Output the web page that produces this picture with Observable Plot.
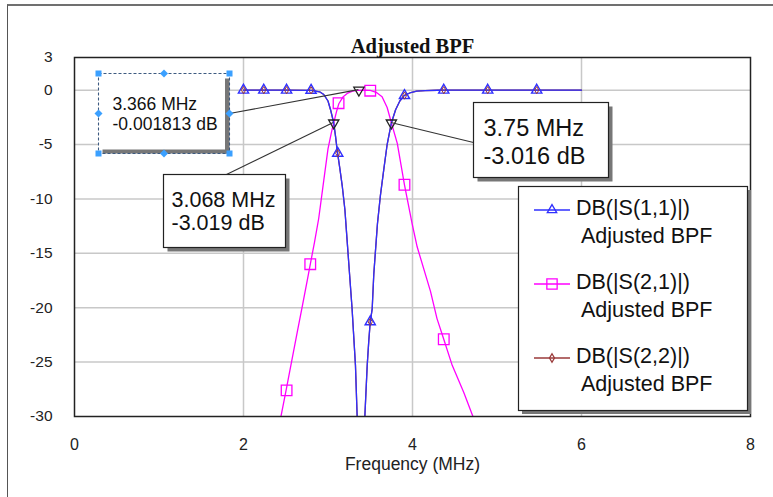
<!DOCTYPE html>
<html><head><meta charset="utf-8">
<script src="https://cdn.jsdelivr.net/npm/d3@7"></script>
<script src="https://cdn.jsdelivr.net/npm/@observablehq/plot@0.6"></script>
<style>
body{margin:0;background:#fff;}
#wrap{position:relative;width:773px;height:497px;overflow:hidden;background:#fff;}
#outer{position:absolute;left:7px;top:4px;width:800px;height:600px;border-left:1.5px solid #555;border-top:2px solid #707070;pointer-events:none;}
</style></head>
<body><div id="wrap"><div id="chart"></div><div id="outer"></div></div>
<script>
const title = "Adjusted BPF";
const xLabel = "Frequency (MHz)";
const xTicks = [0, 2, 4, 6, 8];
const yTicks = [3, 0, -5, -10, -15, -20, -25, -30];
const xGrid = [2, 4, 6];
const yGrid = [0, -5, -10, -15, -20, -25];
const seriesNames = ["DB(|S(1,1)|)", "DB(|S(2,1)|)", "DB(|S(2,2)|)"];
const seriesSub = "Adjusted BPF";

// S11 curve
const s11Freq = [2.0, 2.24, 2.51, 2.80, 2.90, 2.95, 3.00, 3.03, 3.068, 3.09, 3.11, 3.14, 3.17, 3.20, 3.227, 3.255, 3.285, 3.325, 3.345, 3.39, 3.436, 3.464, 3.483, 3.50, 3.523, 3.542, 3.57, 3.585, 3.62, 3.66, 3.70, 3.75, 3.80, 3.85, 3.90, 3.98, 4.05, 4.15, 4.30, 4.37, 4.89, 5.47, 6.0];
const s11DB   = [0, 0, 0, -0.03, -0.15, -0.4, -1.0, -1.8, -3.02, -4.3, -5.6, -7.2, -8.9, -11.0, -13.9, -16.9, -20.1, -25.3, -30.0, -45, -30.0, -25.3, -23.0, -21.3, -20.1, -16.9, -13.9, -12.3, -9.7, -7.3, -5.0, -3.02, -1.8, -1.0, -0.5, -0.22, -0.1, -0.04, -0.01, 0, 0, 0, 0];
// S22 curve (coincides with S11)
const s22Freq = [2.0, 2.24, 2.51, 2.80, 2.90, 2.95, 3.00, 3.03, 3.068, 3.09, 3.11, 3.14, 3.17, 3.20, 3.227, 3.255, 3.285, 3.325, 3.345, 3.39, 3.436, 3.464, 3.483, 3.50, 3.523, 3.542, 3.57, 3.585, 3.62, 3.66, 3.70, 3.75, 3.80, 3.85, 3.90, 3.98, 4.05, 4.15, 4.30, 4.37, 4.89, 5.47, 6.0];
const s22DB   = [0, 0, 0, -0.03, -0.15, -0.4, -1.0, -1.8, -3.02, -4.3, -5.6, -7.2, -8.9, -11.0, -13.9, -16.9, -20.1, -25.3, -30.0, -45, -30.0, -25.3, -23.0, -21.3, -20.1, -16.9, -13.9, -12.3, -9.7, -7.3, -5.0, -3.02, -1.8, -1.0, -0.5, -0.22, -0.1, -0.04, -0.01, 0, 0, 0, 0];
// S21 curve
const s21Freq = [2.30, 2.438, 2.509, 2.635, 2.695, 2.754, 2.793, 2.84, 2.89, 2.95, 3.00, 3.04, 3.068, 3.10, 3.128, 3.18, 3.227, 3.29, 3.35, 3.42, 3.50, 3.57, 3.64, 3.70, 3.75, 3.82, 3.905, 3.996, 4.055, 4.213, 4.29, 4.37, 4.47, 4.607, 4.725, 4.85];
const s21DB   = [-35.8, -30.2, -27.4, -22.3, -19.9, -17.5, -15.9, -14.0, -11.8, -8.3, -5.4, -3.9, -3.0, -2.0, -1.25, -0.6, -0.3, -0.1, -0.02, -0.01, -0.03, -0.2, -0.6, -1.6, -3.0, -4.9, -8.7, -12.3, -14.4, -18.5, -21.0, -22.9, -25.3, -27.8, -30.2, -33.0];

// symbol markers
const s11MarkFreq = [2.0, 2.24, 2.51, 2.80, 3.115, 3.50, 3.905, 4.37, 4.89, 5.47];
const s11MarkDB   = [0, 0, 0, -0.02, -5.8, -21.3, -0.5, 0, 0, 0];
const s22MarkFreq = [2.0, 2.24, 2.51, 2.80, 3.115, 3.50, 3.905, 4.37, 4.89, 5.47];
const s22MarkDB   = [0, 0, 0, -0.02, -5.8, -21.3, -0.5, 0, 0, 0];
const s21MarkFreq = [2.51, 2.79, 3.125, 3.50, 3.905, 4.37];
const s21MarkDB   = [-27.6, -16.0, -1.2, -0.05, -8.7, -22.9];

// data markers (readouts)
const readFreq = [3.068, 3.366, 3.75];
const readDB = [-3.019, -0.001813, -3.016];
const readFreqText = ["3.068 MHz", "3.366 MHz", "3.75 MHz"];
const readDBText = ["-3.019 dB", "-0.001813 dB", "-3.016 dB"];

const C11 = "#2f2fff", C21 = "#ff00ff", C22 = "#9a3a3a";
const FONT = "'Liberation Sans', Arial, sans-serif";

const tbl = (fs, vs) => fs.map((f, i) => ({f, db: vs[i]}));
const s11 = tbl(s11Freq, s11DB), s21 = tbl(s21Freq, s21DB), s22 = tbl(s22Freq, s22DB);
const m11 = tbl(s11MarkFreq, s11MarkDB), m21 = tbl(s21MarkFreq, s21MarkDB), m22 = tbl(s22MarkFreq, s22MarkDB);
const reads = readFreq.map((f, i) => ({f, db: readDB[i], t1: readFreqText[i], t2: readDBText[i]}));

const plot = Plot.plot({
  width: 773, height: 497,
  marginTop: 57, marginBottom: 81, marginLeft: 74, marginRight: 23,
  x: {domain: [0, 8]},
  y: {domain: [-30, 3]},
  style: {fontFamily: FONT, fontSize: "15.5px", color: "#222", background: "transparent", overflow: "visible"},
  marks: [
    Plot.gridX(xGrid, {stroke: "#c8c8c8", strokeOpacity: 1, strokeWidth: 1.5}),
    Plot.gridY(yGrid, {stroke: "#c8c8c8", strokeOpacity: 1, strokeWidth: 1.5}),
    Plot.axisX(xTicks, {tickSize: 0, tickPadding: 22, label: null, tickFormat: d => String(d), fontSize: 16}),
    Plot.axisY(yTicks, {tickSize: 0, tickPadding: 22, label: null, tickFormat: d => String(d), fontSize: 15.5}),
    Plot.line(s22, {x: "f", y: "db", stroke: C22, strokeWidth: 1.3, clip: true}),
    Plot.line(s21, {x: "f", y: "db", stroke: C21, strokeWidth: 1.3, clip: true}),
    Plot.line(s11, {x: "f", y: "db", stroke: C11, strokeWidth: 1.3, clip: true}),
    Plot.dot(m21, {x: "f", y: "db", symbol: "square", r: 6, stroke: C21, fill: "none", strokeWidth: 1.3}),
    Plot.dot(m11, {x: "f", y: "db", symbol: "triangle", r: 3.8, stroke: C11, fill: "none", strokeWidth: 1.4}),
    Plot.dot(m22, {x: "f", y: "db", symbol: "diamond", r: 2.2, stroke: C22, fill: "none", strokeWidth: 1}),
    Plot.dot(reads, {x: "f", y: "db", symbol: "triangle", rotate: 180, r: 3.8, stroke: "#222", fill: "none", strokeWidth: 1.3}),
    Plot.frame({stroke: "#222", strokeWidth: 1.5}),
    Plot.text([title], {text: d => d, frameAnchor: "top", dy: -18.6, fontSize: 20.5, fontWeight: "bold", fontFamily: "'Liberation Serif', 'Times New Roman', serif", fill: "#111"}),
    Plot.text([xLabel], {text: d => d, frameAnchor: "bottom", dy: 53.4, fontSize: 17.5, fill: "#222"})
  ]
});
document.getElementById("chart").appendChild(plot);

// Overlay: readout boxes and legend
const svg = d3.select(plot);
const X = v => plot.scale("x").apply(v), Y = v => plot.scale("y").apply(v);
const ov = svg.append("g").attr("font-family", FONT).attr("fill", "#111").attr("text-anchor", "start");

const boxStyle = [
  {dx: -170, dy: 52, w: 122, h: 73, pad: 8, base: [32, 55], fs: 21.5, ax: 63, ay: 0, sel: false},
  {dx: -260, dy: -17, w: 131, h: 80, pad: 14, base: [36, 56], fs: 17.5, ax: 131, ay: 40, sel: true},
  {dx: 82, dy: -20, w: 135, h: 75, pad: 10, base: [33, 61], fs: 23.5, ax: 0, ay: 40, sel: false}
];
reads.forEach((r, i) => {
  const s = boxStyle[i];
  const px = X(r.f), py = Y(r.db);
  const bx = Math.round(px + s.dx) + 0.5, by = Math.round(py + s.dy) + 0.5;
  ov.append("line").attr("x1", bx + s.ax).attr("y1", by + s.ay).attr("x2", px).attr("y2", py)
    .attr("stroke", "#333").attr("stroke-width", 1.1);
});
reads.forEach((r, i) => {
  const s = boxStyle[i];
  const px = X(r.f), py = Y(r.db);
  const bx = Math.round(px + s.dx) + 0.5, by = Math.round(py + s.dy) + 0.5;
  const g = ov.append("g");
  if (!s.sel) {
    g.append("rect").attr("x", bx + 4).attr("y", by + 4).attr("width", s.w).attr("height", s.h).attr("fill", "#777");
    g.append("rect").attr("x", bx).attr("y", by).attr("width", s.w).attr("height", s.h).attr("fill", "#fff").attr("stroke", "#222").attr("stroke-width", 1.2);
  } else {
    g.append("rect").attr("x", bx).attr("y", by).attr("width", s.w).attr("height", s.h).attr("fill", "#fff");
    g.append("rect").attr("x", bx + s.w - 4.5).attr("y", by + 5).attr("width", 4.5).attr("height", s.h - 5).attr("fill", "#777");
    g.append("rect").attr("x", bx + 4).attr("y", by + s.h - 4).attr("width", s.w - 4).attr("height", 4).attr("fill", "#777");
    g.append("rect").attr("x", bx).attr("y", by).attr("width", s.w).attr("height", s.h).attr("fill", "none")
      .attr("stroke", "#3d5a80").attr("stroke-width", 1.1).attr("stroke-dasharray", "3,2");
    const hc = "#3ba0ff";
    [[0, 0], [1, 0], [0, 1], [1, 1]].forEach(([a, b]) => {
      g.append("rect").attr("x", bx + a * s.w - 3).attr("y", by + b * s.h - 3).attr("width", 6).attr("height", 6).attr("fill", hc);
    });
    [[0.5, 0], [0, 0.5], [1, 0.5], [0.5, 1]].forEach(([a, b]) => {
      const cx = bx + a * s.w, cy = by + b * s.h;
      g.append("path").attr("d", `M${cx},${cy - 4}L${cx + 4},${cy}L${cx},${cy + 4}L${cx - 4},${cy}Z`).attr("fill", hc);
    });
  }
  g.append("text").attr("x", bx + s.pad).attr("y", by + s.base[0]).attr("font-size", s.fs).attr("text-anchor", "start").text(r.t1);
  g.append("text").attr("x", bx + s.pad).attr("y", by + s.base[1]).attr("font-size", s.fs).attr("text-anchor", "start").text(r.t2);
});

// Legend
const lg = ov.append("g");
const L = {x: 518.5, y: 186.5, w: 229, h: 224};
lg.append("rect").attr("x", L.x + 3.5).attr("y", L.y + 3.5).attr("width", L.w).attr("height", L.h).attr("fill", "#777");
lg.append("rect").attr("x", L.x).attr("y", L.y).attr("width", L.w).attr("height", L.h).attr("fill", "#fff").attr("stroke", "#222").attr("stroke-width", 1.2);
const legSym = [
  {c: C11, t: d3.symbolTriangle, r: 3.5},
  {c: C21, t: d3.symbolSquare, r: 5.8},
  {c: C22, t: d3.symbolDiamond, r: 2.6}
];
seriesNames.forEach((name, i) => {
  const y = 210 + i * 74;
  lg.append("line").attr("x1", 534).attr("x2", 570).attr("y1", y).attr("y2", y).attr("stroke", legSym[i].c).attr("stroke-width", 1.4);
  lg.append("path").attr("d", d3.symbol(legSym[i].t, Math.PI * legSym[i].r * legSym[i].r)())
    .attr("transform", `translate(552,${y})`).attr("fill", "none").attr("stroke", legSym[i].c).attr("stroke-width", 1.3);
  lg.append("text").attr("x", 576).attr("y", y + 4.5).attr("font-size", 21.5).attr("text-anchor", "start").text(name);
  lg.append("text").attr("x", 581).attr("y", y + 32.5).attr("font-size", 21.5).attr("text-anchor", "start").text(seriesSub);
});
</script>
</body></html>
